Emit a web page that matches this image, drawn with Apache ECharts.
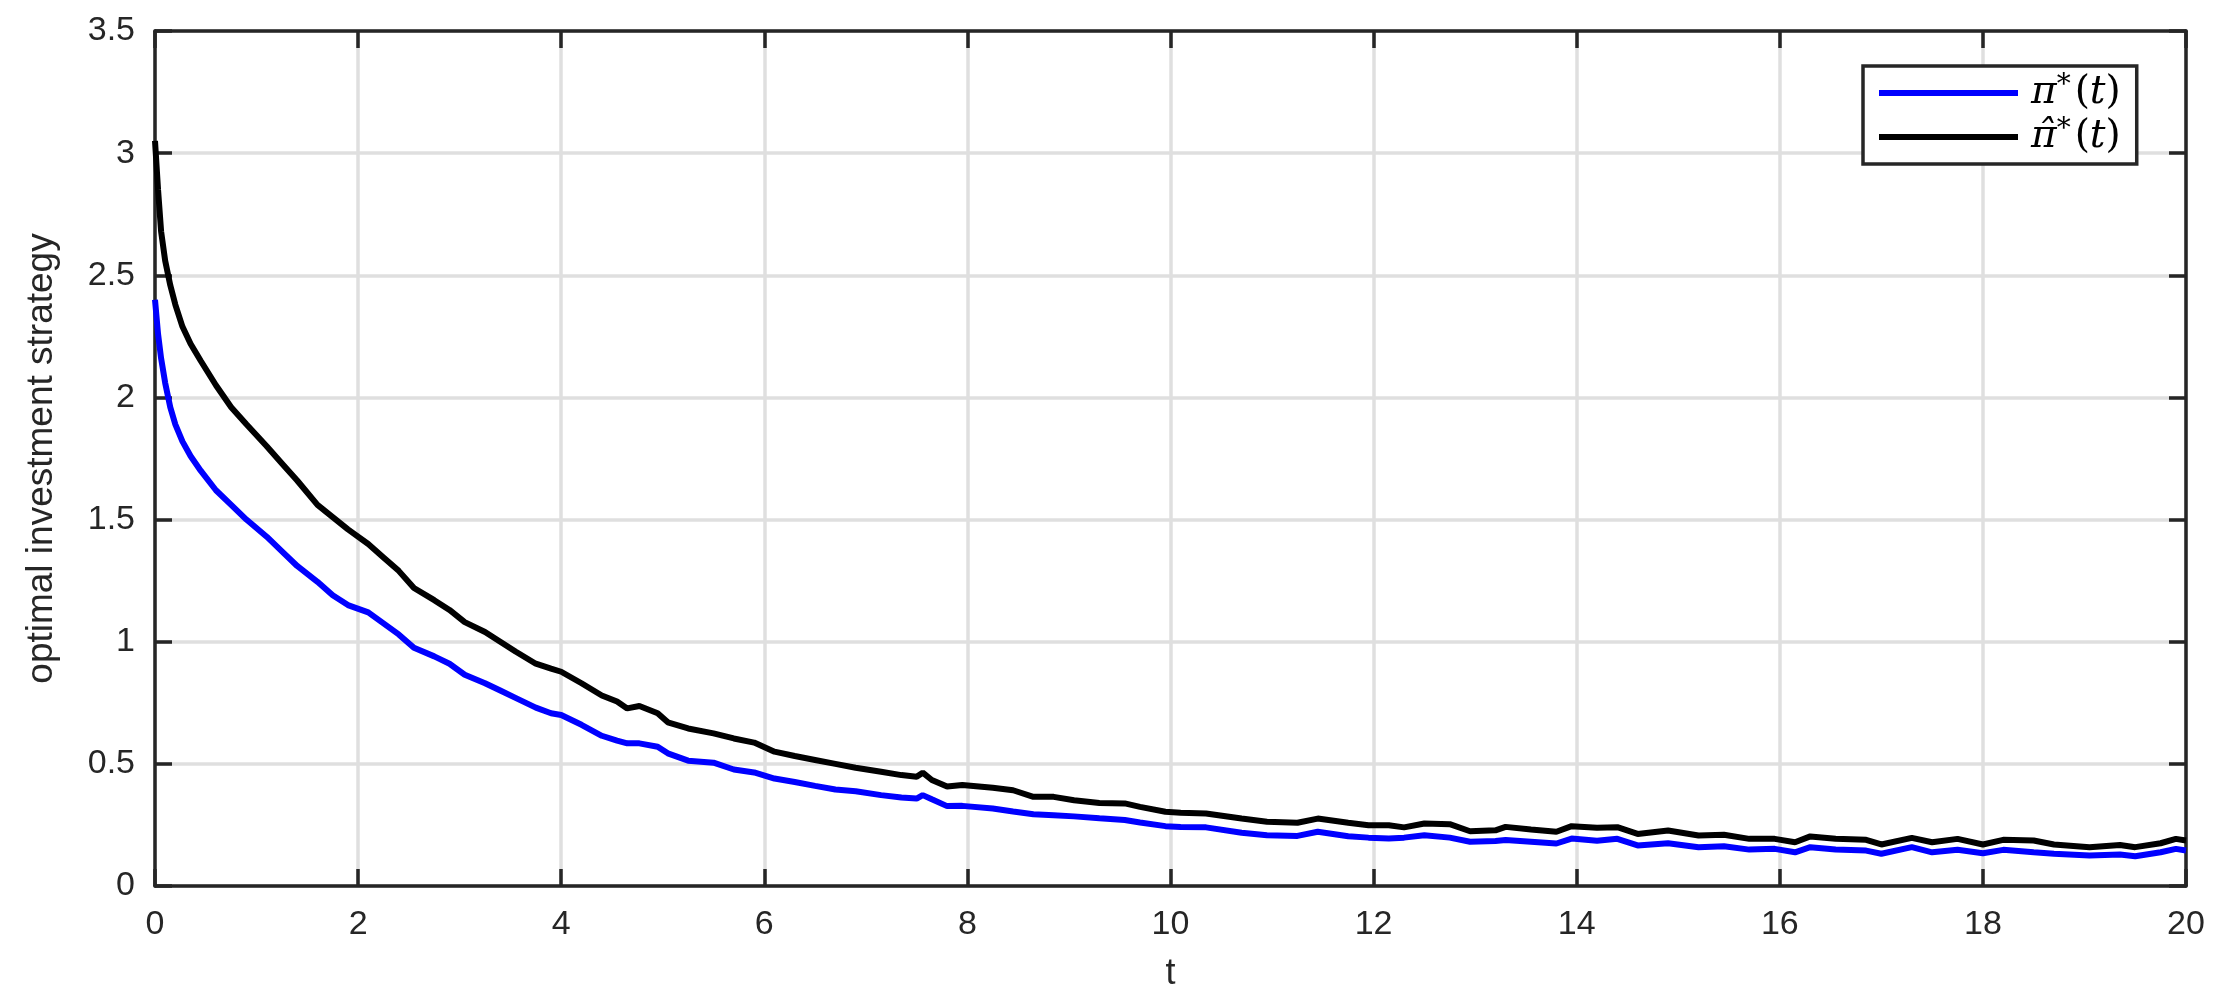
<!DOCTYPE html>
<html>
<head>
<meta charset="utf-8">
<title>optimal investment strategy</title>
<script src="https://cdn.jsdelivr.net/npm/echarts@6/dist/echarts.min.js"></script>
<style>
html, body { margin: 0; padding: 0; background: #fff; }
#chart { width: 2218px; height: 1007px; }
</style>
</head>
<body>
<div id="chart"></div>
<script>
// time grid
const tValues = [0, 0.03, 0.06, 0.1, 0.15, 0.2, 0.27, 0.35, 0.45, 0.6, 0.75, 0.9, 1.1, 1.25, 1.4, 1.6, 1.75, 1.9,
  2.1, 2.25, 2.4, 2.55, 2.75, 2.9, 3.05, 3.25, 3.4, 3.55, 3.75, 3.9, 4.0, 4.2, 4.4, 4.55, 4.65, 4.77, 4.95,
  5.05, 5.25, 5.5, 5.7, 5.9, 6.1, 6.3, 6.5, 6.7, 6.9, 7.15, 7.35, 7.5, 7.56, 7.65, 7.8, 7.95, 8.25, 8.45,
  8.65, 8.85, 9.05, 9.3, 9.55, 9.7, 9.95, 10.1, 10.35, 10.7, 10.95, 11.25, 11.45, 11.75, 11.95, 12.15,
  12.3, 12.5, 12.75, 12.95, 13.2, 13.3, 13.55, 13.8, 13.95, 14.2, 14.4, 14.6, 14.9, 15.2, 15.45, 15.7,
  15.95, 16.15, 16.3, 16.55, 16.85, 17.0, 17.3, 17.5, 17.75, 18.0, 18.2, 18.5, 18.7, 19.05, 19.35, 19.5,
  19.75, 19.9, 20]

// pi*(t), blue
const piStar = [2.40, 2.26, 2.16, 2.06, 1.96, 1.89, 1.82, 1.76, 1.70, 1.62, 1.56, 1.50, 1.43, 1.37, 1.31, 1.245, 1.19, 1.15,
  1.12, 1.075, 1.03, 0.975, 0.94, 0.91, 0.865, 0.83, 0.80, 0.77, 0.73, 0.707, 0.70, 0.66, 0.615, 0.595, 0.584, 0.584, 0.57,
  0.543, 0.513, 0.505, 0.477, 0.465, 0.44, 0.426, 0.41, 0.395, 0.388, 0.372, 0.362, 0.358, 0.372, 0.355, 0.327, 0.328, 0.317, 0.305,
  0.294, 0.29, 0.285, 0.277, 0.27, 0.26, 0.245, 0.242, 0.24, 0.218, 0.208, 0.205, 0.222, 0.204, 0.198, 0.194,
  0.198, 0.208, 0.198, 0.181, 0.184, 0.188, 0.181, 0.174, 0.194, 0.185, 0.193, 0.166, 0.175, 0.159, 0.163, 0.149,
  0.152, 0.138, 0.159, 0.149, 0.145, 0.132, 0.159, 0.138, 0.148, 0.134, 0.148, 0.138, 0.132, 0.125, 0.129, 0.122,
  0.138, 0.152, 0.145]

// hat pi*(t), black
const piHatStar = [3.05, 2.85, 2.68, 2.56, 2.46, 2.38, 2.29, 2.22, 2.15, 2.05, 1.96, 1.89, 1.80, 1.73, 1.66, 1.56, 1.51, 1.46,
  1.40, 1.345, 1.29, 1.22, 1.17, 1.13, 1.08, 1.04, 1.00, 0.96, 0.91, 0.89, 0.877, 0.83, 0.78, 0.755, 0.727, 0.737, 0.707,
  0.67, 0.645, 0.625, 0.604, 0.587, 0.55, 0.532, 0.516, 0.50, 0.484, 0.468, 0.454, 0.447, 0.464, 0.434, 0.407, 0.413, 0.402, 0.392,
  0.365, 0.365, 0.351, 0.34, 0.338, 0.324, 0.304, 0.30, 0.297, 0.276, 0.263, 0.259, 0.276, 0.259, 0.249, 0.249,
  0.24, 0.256, 0.253, 0.224, 0.228, 0.242, 0.231, 0.222, 0.245, 0.238, 0.241, 0.213, 0.227, 0.207, 0.21, 0.193,
  0.193, 0.179, 0.203, 0.193, 0.189, 0.17, 0.197, 0.179, 0.193, 0.17, 0.189, 0.186, 0.17, 0.159, 0.168, 0.159,
  0.175, 0.193, 0.186]

const seriesNames = ['pi', 'piHat']
const seriesColors = ['#0000ff', '#000000']

const axisColor = '#262626'
const font = 'Liberation Sans, Arial, Helvetica, sans-serif'

function pairs (ys) {
  return tValues.map(function (t, i) { return [t, ys[i]] })
}

// MATLAB style box: every side has an axis line and inward ticks
function xAxisSide (pos, labels) {
  return {
    type: 'value', position: pos, min: 0, max: 20, interval: 2,
    name: labels ? 't' : '', nameLocation: 'middle', nameGap: 70,
    nameTextStyle: { color: axisColor, fontFamily: font, fontSize: 36 },
    axisLine: { show: true, onZero: false, lineStyle: { color: axisColor, width: 3.5 } },
    axisTick: { show: true, inside: true, length: 17, lineStyle: { color: axisColor, width: 3.5 } },
    axisLabel: { show: labels, margin: 22, color: axisColor, fontFamily: font, fontSize: 34 },
    splitLine: { show: labels, lineStyle: { color: '#dfdfdf', width: 3.5 } }
  }
}

function yAxisSide (pos, labels) {
  return {
    type: 'value', position: pos, min: 0, max: 3.5, interval: 0.5,
    name: labels ? 'optimal investment strategy' : '', nameLocation: 'middle', nameGap: 95,
    nameTextStyle: { color: axisColor, fontFamily: font, fontSize: 37 },
    axisLine: { show: true, onZero: false, lineStyle: { color: axisColor, width: 3.5 } },
    axisTick: { show: true, inside: true, length: 17, lineStyle: { color: axisColor, width: 3.5 } },
    axisLabel: { show: labels, margin: 20, color: axisColor, fontFamily: font, fontSize: 34 },
    splitLine: { show: labels, lineStyle: { color: '#dfdfdf', width: 3.5 } }
  }
}

const mathText = {
  m: { fontFamily: 'DejaVu Serif', fontStyle: 'italic', fontSize: 39, color: '#000', lineHeight: 42 },
  f: { fontFamily: 'DejaVu Serif', fontStyle: 'italic', fontSize: 39, color: '#000', lineHeight: 42, padding: [0, 0, 0, 8] },
  s: { fontFamily: 'DejaVu Serif', fontSize: 28, color: '#000', lineHeight: 42, verticalAlign: 'top', padding: [0, 4, 0, 0] },
  n: { fontFamily: 'DejaVu Serif', fontSize: 39, color: '#000', lineHeight: 42 }
}

const myChart = echarts.init(document.getElementById('chart'))
myChart.setOption({
  animation: false,
  backgroundColor: '#fff',
  grid: { left: 155, right: 32, top: 31, bottom: 121 },
  xAxis: [xAxisSide('bottom', true), xAxisSide('top', false)],
  yAxis: [yAxisSide('left', true), yAxisSide('right', false)],
  legend: {
    orient: 'vertical',
    left: 1863,
    top: 66,
    padding: [6, 16, 6, 16],
    itemGap: 2,
    itemWidth: 139,
    itemHeight: 6,
    icon: 'rect',
    selectedMode: false,
    backgroundColor: '#fff',
    borderColor: axisColor,
    borderWidth: 3.5,
    borderRadius: 0,
    formatter: function (name) {
      const base = name === 'pi' ? 'π' : 'π\u0302'
      return '{f|' + base + '}{s|*}{n|(}{m|t}{n|)}'
    },
    textStyle: { rich: mathText, lineHeight: 42 },
    data: seriesNames
  },
  series: seriesNames.map(function (name, i) {
    return {
      name: name,
      type: 'line',
      data: pairs(i === 0 ? piStar : piHatStar),
      showSymbol: false,
      symbol: 'none',
      color: seriesColors[i],
      lineStyle: { color: seriesColors[i], width: 6 }
    }
  })
})
</script>
</body>
</html>
